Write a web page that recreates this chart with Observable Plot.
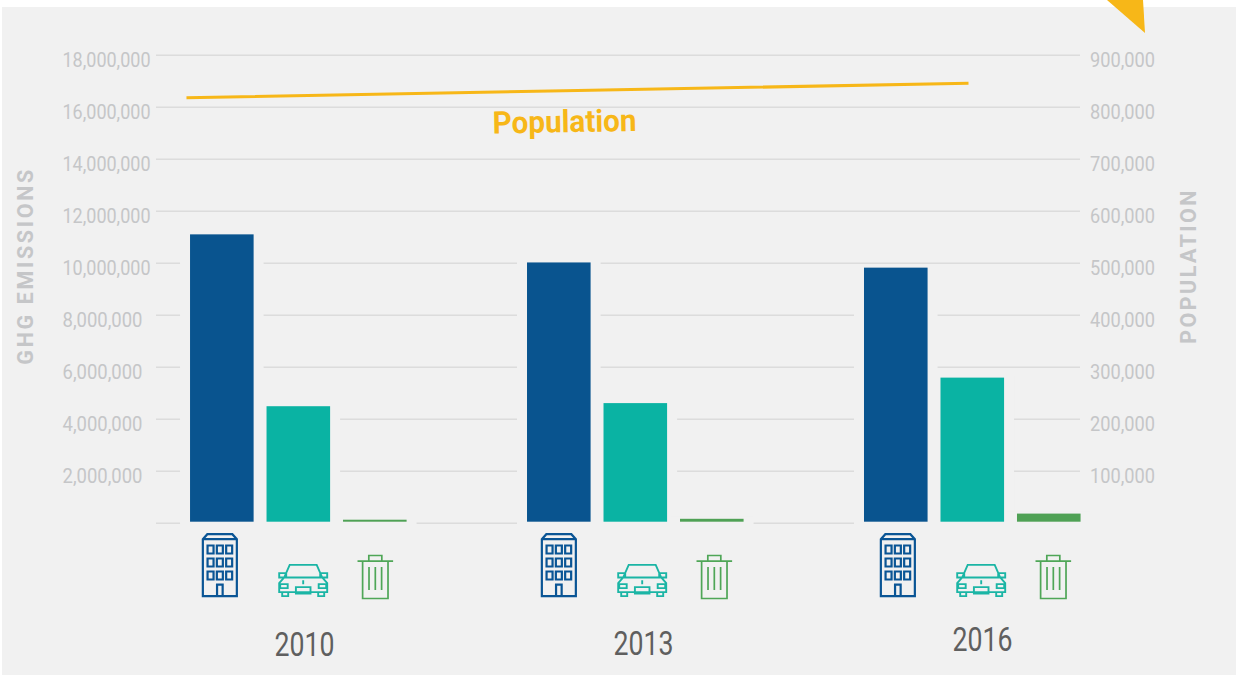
<!DOCTYPE html>
<html>
<head>
<meta charset="utf-8">
<script src="https://cdn.jsdelivr.net/npm/d3@7"></script>
<script src="https://cdn.jsdelivr.net/npm/@observablehq/plot@0.6"></script>
<style>
html,body{margin:0;padding:0;background:#fff;overflow:hidden}
#wrap{position:relative;width:1236px;height:675px}
#panel{position:absolute;left:2px;top:7px;right:0;bottom:0;background:#f1f1f1}
#corner{position:absolute;left:1107px;top:0;width:38px;height:33px;background:#f7b718;clip-path:polygon(0 0,36px 0,38px 33px)}
#chart{position:absolute;left:0;top:0}
#chart svg{background:transparent;display:block}
</style>
</head>
<body>
<div id="wrap"><div id="panel"></div><div id="corner"></div><div id="chart"></div></div>
<script>
const years = [2010, 2013, 2016];
const sectors = ["Buildings", "Transportation", "Waste"];
const buildings = [11090000, 10010000, 9810000];
const transportation = [4480000, 4600000, 5580000];
const waste = [115000, 150000, 350000];
const population = [818000, 832000, 846000];
const populationYearPosition = [2009.964, 2013.445, 2016.926];
const emissionTicks = [2e6, 4e6, 6e6, 8e6, 10e6, 12e6, 14e6, 16e6, 18e6];
const gridTicks = [0, ...emissionTicks];
const populationTicks = [100000, 200000, 300000, 400000, 500000, 600000, 700000, 800000, 900000];
const yearLabelLevels = [-4690000, -4650000, -4500000];

const sectorColors = {Buildings: "#09548f", Transportation: "#0ab3a3", Waste: "#4fa155"};
const FONT = "Roboto, sans-serif";
const BG = "#f1f1f1", MUTED = "#c5c6c8", GOLD = "#f7b718";
const popFactor = 20;

const slot = 0.681, barW = 0.566, iconSpread = 1.006;
const values = [buildings, transportation, waste];
const bars = years.flatMap((year, i) => sectors.map((sector, k) => ({
  sector, x1: year + k * slot, x2: year + k * slot + barW, value: values[k][i]
})));
const iconPos = (year, offset) => 2010 + (year - 2010) * iconSpread + offset;

const buildingIcon = {draw(c) {
  c.moveTo(-17, 31); c.lineTo(-17, -26); c.lineTo(-12.5, -31); c.lineTo(12.5, -31); c.lineTo(17, -26); c.lineTo(17, 31); c.closePath();
  c.moveTo(-17, -26); c.lineTo(17, -26);
  for (const wy of [-15.7, -2.7, 10.3]) for (const wx of [-9.3, 0, 9.3]) c.rect(wx - 3, wy - 4, 6, 8);
  c.moveTo(-2.8, 31); c.lineTo(-2.8, 19.5); c.lineTo(2.8, 19.5); c.lineTo(2.8, 31);
}};
const carIcon = {draw(c) {
  c.moveTo(-13.5, -15.3); c.lineTo(13.5, -15.3); c.lineTo(19, -2.7); c.lineTo(-19, -2.7); c.closePath();
  c.moveTo(-19, -2.7); c.lineTo(-24, 3); c.lineTo(-24, 12); c.lineTo(24, 12); c.lineTo(24, 3); c.lineTo(19, -2.7);
  c.rect(-24, -7, 7, 4.3); c.rect(17, -7, 7, 4.3);
  c.rect(-23, 4, 7.5, 4); c.rect(15.5, 4, 7.5, 4);
  c.rect(-7.3, 7, 14.6, 6.5);
  c.rect(-21, 12, 6, 4); c.rect(15, 12, 6, 4);
  c.moveTo(0, 0); c.lineTo(0, 4);
}};
const binIcon = {draw(c) {
  c.moveTo(-17.8, -15.8); c.lineTo(17.8, -15.8);
  c.moveTo(-6.5, -15.8); c.lineTo(-6.5, -21.5); c.lineTo(6.5, -21.5); c.lineTo(6.5, -15.8);
  c.moveTo(-12.7, -15.8); c.lineTo(-12.7, 21.5); c.lineTo(12.7, 21.5); c.lineTo(12.7, -15.8);
  for (const lx of [-6.3, 0, 6.3]) { c.moveTo(lx, -10); c.lineTo(lx, 13); }
}};

const chart = Plot.plot({
  width: 1236, height: 675,
  marginTop: 54.7, marginBottom: 152.3, marginLeft: 156, marginRight: 156,
  x: {type: "linear", domain: [2009.697, 2017.923], axis: null},
  y: {domain: [0, 18000000], axis: null},
  style: {fontFamily: FONT, background: "transparent", overflow: "visible"},
  marks: [
    Plot.ruleY(gridTicks, {stroke: "#dcdcdc", strokeWidth: 1.5}),
    Plot.rect(bars, {x1: "x1", x2: "x2", y1: 0, y2: "value", fill: BG, insetLeft: -10, insetRight: -10, insetTop: -2, insetBottom: -3}),
    Plot.rect(bars, {x1: "x1", x2: "x2", y1: 0, y2: "value", fill: d => sectorColors[d.sector], insetBottom: 1}),
    Plot.axisY(emissionTicks, {anchor: "left", label: null, tickSize: 0, tickPadding: 94, textAnchor: "start", dy: 5, fontSize: 21, fill: MUTED, tickFormat: d3.format(",")}),
    Plot.axisY(populationTicks.map(d => d * popFactor), {anchor: "right", label: null, tickSize: 0, tickPadding: 9.5, dy: 5, fontSize: 21, fill: MUTED, tickFormat: d => d3.format(",")(d / popFactor)}),
    Plot.line(population, {x: (d, i) => populationYearPosition[i], y: d => d * popFactor, stroke: GOLD, strokeWidth: 3, strokeLinecap: "butt"}),
    Plot.text(["Population"], {x: 2013.33, y: 15420000, text: d => d, fill: GOLD, fontSize: 31, fontWeight: 700, rotate: -1}),
    Plot.text(["GHG EMISSIONS"], {frameAnchor: "left", textAnchor: "middle", dx: -130, dy: -22, text: d => d, rotate: -90, fill: MUTED, fontSize: 21.5, fontWeight: 700}),
    Plot.text(["POPULATION"], {frameAnchor: "right", textAnchor: "middle", dx: 109, dy: -22, text: d => d, rotate: -90, fill: MUTED, fontSize: 21.5, fontWeight: 700}),
    Plot.dot(years, {x: d => iconPos(d, 0.261), y: -1615000, symbol: buildingIcon, r: 5, fill: "none", stroke: "#0a5595", strokeWidth: 2.2}),
    Plot.dot(years, {x: d => iconPos(d, 1.003), y: -2190000, symbol: carIcon, r: 5, fill: "none", stroke: "#1bb5a5", strokeWidth: 1.9}),
    Plot.dot(years, {x: d => iconPos(d, 1.645), y: -2070000, symbol: binIcon, r: 5, fill: "none", stroke: "#4fa657", strokeWidth: 1.7}),
    Plot.text(years, {x: d => iconPos(d, 1.015), y: (d, i) => yearLabelLevels[i], text: d => String(d), fill: "#5f5f5f", fontSize: 33})
  ]
});

// The reference face is a condensed DIN; fit Roboto to its measured text widths.
const fit = (length, adjust) => ({length, adjust});
const widthOf = t => {
  if (t === "GHG EMISSIONS") return fit(195, "spacing");
  if (t === "POPULATION") return fit(153, "spacing");
  if (t === "Population") return fit(144, "spacingAndGlyphs");
  if (/^\d{4}$/.test(t)) return fit(60, "spacingAndGlyphs");
  if (/^\d{2},/.test(t)) return fit(88, "spacingAndGlyphs");
  if (/^\d,/.test(t)) return fit(80, "spacingAndGlyphs");
  if (/^\d{3},/.test(t)) return fit(65, "spacingAndGlyphs");
  return null;
};
document.getElementById("chart").append(chart);
chart.querySelectorAll("text").forEach(el => {
  const f = widthOf(el.textContent.trim());
  if (f) { el.setAttribute("textLength", f.length); el.setAttribute("lengthAdjust", f.adjust); }
});
</script>
</body>
</html>
